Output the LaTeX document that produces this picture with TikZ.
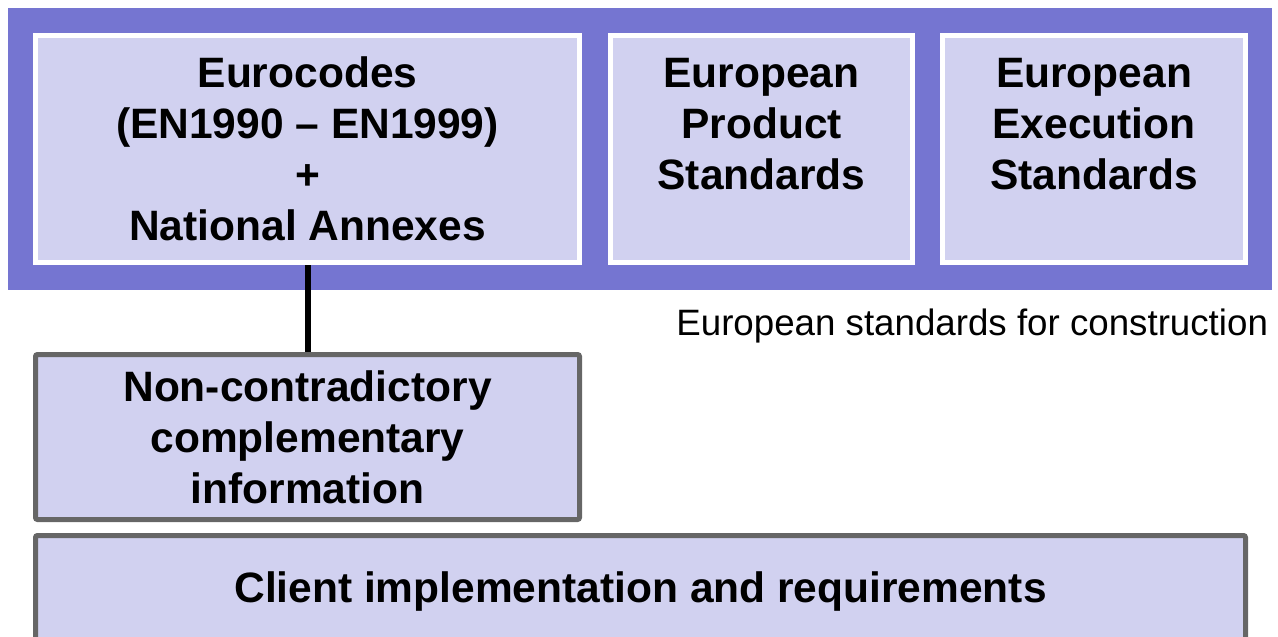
\documentclass[tikz,border=0pt]{standalone}
\usepackage{fontspec}
\setmainfont{Liberation Sans}
\usetikzlibrary{positioning}
\definecolor{bandblue}{HTML}{7575D1}
\definecolor{boxfill}{HTML}{D1D1F0}
\definecolor{boxgray}{HTML}{666666}
\tikzstyle{band} = [rectangle, 
inner sep=0pt, 
minimum width=1264pt, 
minimum height=282pt, 
fill=bandblue]
\tikzstyle{whitebox} = [rectangle, 
minimum height=227pt, 
text centered, 
align=center,
font=\bfseries\fontsize{42.5pt}{51pt}\selectfont,
line width=5pt,
draw=white, 
fill=boxfill]
\tikzstyle{graybox} = [rectangle, rounded corners=2pt, 
text centered, 
align=center,
font=\bfseries\fontsize{42.5pt}{51pt}\selectfont,
line width=5pt,
draw=boxgray, 
fill=boxfill]
\tikzstyle{caption} = [inner sep=0pt, font=\fontsize{36.7pt}{43pt}\selectfont]
\tikzstyle{link} = [line width=6pt, draw=black]
\begin{document}
\begin{tikzpicture}[x=1pt, y=-1pt]
		\useasboundingbox (0,0) rectangle (1278,637);
		\node (std) [band] at (640,149) {};
		\node (euro) [whitebox, minimum width=544pt] at (307.5,149) {Eurocodes\\ (EN1990 -- EN1999)\\ +\\ National Annexes};
		\node (prod) [whitebox, minimum width=302pt, right=26pt of euro] {European\\ Product\\ Standards\\ \phantom{N}};
		\node (exec) [whitebox, minimum width=303pt, right=25pt of prod] {European\\ Execution\\ Standards\\ \phantom{N}};
		\node (cap) [caption, anchor=base east] at ([xshift=-4pt, yshift=-45pt]std.south east) {European standards for construction};

		\node (nonc) [graybox, minimum width=544pt, minimum height=165pt, below=87pt of euro] {Non-contradictory\\ complementary\\ information};
		\node (client) [graybox, minimum width=1210pt, minimum height=112pt, anchor=north west, below right=11pt and 0pt of nonc.south west] {Client implementation and requirements};

		\draw [link] (euro.south) -- (nonc.north);
	\end{tikzpicture}
\end{document}
